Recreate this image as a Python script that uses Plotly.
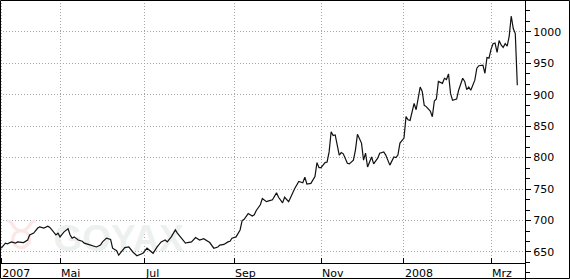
import plotly.graph_objects as go

# ---- data ----
dates = [
    "2007-03-19", "2007-03-21", "2007-03-22", "2007-03-26", "2007-03-28", "2007-03-29",
    "2007-04-03", "2007-04-05", "2007-04-10", "2007-04-12", "2007-04-16", "2007-04-17",
    "2007-04-19", "2007-04-23", "2007-04-24", "2007-04-25", "2007-04-27", "2007-04-30",
    "2007-05-01", "2007-05-03", "2007-05-08", "2007-05-09", "2007-05-10", "2007-05-11",
    "2007-05-15", "2007-05-17", "2007-05-18", "2007-05-22", "2007-05-24", "2007-05-29",
    "2007-05-31", "2007-06-01", "2007-06-05", "2007-06-07", "2007-06-08", "2007-06-12",
    "2007-06-13", "2007-06-15", "2007-06-18", "2007-06-20", "2007-06-22", "2007-06-26",
    "2007-06-29", "2007-07-03", "2007-07-04", "2007-07-06", "2007-07-10", "2007-07-12",
    "2007-07-16", "2007-07-17", "2007-07-19", "2007-07-23", "2007-07-24", "2007-07-26",
    "2007-07-30", "2007-07-31", "2007-08-02", "2007-08-06", "2007-08-08", "2007-08-10",
    "2007-08-14", "2007-08-15", "2007-08-17", "2007-08-21", "2007-08-22", "2007-08-24",
    "2007-08-29", "2007-08-30", "2007-08-31", "2007-09-04", "2007-09-06", "2007-09-07",
    "2007-09-10", "2007-09-11", "2007-09-12", "2007-09-14", "2007-09-17", "2007-09-18",
    "2007-09-20", "2007-09-21", "2007-09-25", "2007-09-27", "2007-09-28", "2007-10-02",
    "2007-10-03", "2007-10-05", "2007-10-08", "2007-10-10", "2007-10-12", "2007-10-15",
    "2007-10-17", "2007-10-19", "2007-10-22", "2007-10-23", "2007-10-25", "2007-10-29",
    "2007-10-30", "2007-10-31", "2007-11-01", "2007-11-05", "2007-11-06", "2007-11-07",
    "2007-11-08", "2007-11-09", "2007-11-12", "2007-11-14", "2007-11-15", "2007-11-16",
    "2007-11-20", "2007-11-21", "2007-11-23", "2007-11-26", "2007-11-27", "2007-11-29",
    "2007-11-30", "2007-12-03", "2007-12-04", "2007-12-06", "2007-12-07", "2007-12-11",
    "2007-12-12", "2007-12-14", "2007-12-17", "2007-12-19", "2007-12-21", "2007-12-24",
    "2007-12-27", "2007-12-28", "2008-01-02", "2008-01-03", "2008-01-04", "2008-01-07",
    "2008-01-09", "2008-01-10", "2008-01-14", "2008-01-15", "2008-01-16", "2008-01-17",
    "2008-01-21", "2008-01-22", "2008-01-23", "2008-01-24", "2008-01-25", "2008-01-29",
    "2008-01-30", "2008-01-31", "2008-02-01", "2008-02-04", "2008-02-05", "2008-02-07",
    "2008-02-08", "2008-02-11", "2008-02-12", "2008-02-13", "2008-02-14", "2008-02-15",
    "2008-02-18", "2008-02-19", "2008-02-20", "2008-02-21", "2008-02-22", "2008-02-26",
    "2008-02-27", "2008-02-28", "2008-02-29", "2008-03-03", "2008-03-04", "2008-03-05",
    "2008-03-06", "2008-03-07", "2008-03-10", "2008-03-11", "2008-03-12", "2008-03-13",
    "2008-03-14", "2008-03-17", "2008-03-18", "2008-03-19", "2008-03-20",
]
prices = [
    656, 664, 663, 666, 664, 666,
    665, 669, 677, 680, 688, 690,
    688, 691, 689, 685, 677, 680,
    674, 682, 687, 677, 672, 674,
    669, 667, 664, 662, 660, 658,
    661, 666, 672, 670, 656, 652,
    645, 653, 657, 658, 650, 644,
    648, 656, 653, 648, 658, 666,
    669, 666, 674, 685, 680, 672,
    664, 665, 666, 673, 669, 671,
    667, 665, 656, 658, 661, 662,
    666, 667, 672, 674, 685, 700,
    702, 706, 711, 707, 709, 716,
    725, 735, 730, 732, 733, 744,
    737, 728, 737, 730, 746, 751,
    762, 760, 769, 758, 759, 770,
    792, 784, 784, 792, 793, 809,
    841, 835, 836, 804, 808, 806,
    791, 790, 796, 812, 837, 823,
    796, 807, 785, 801, 790, 799,
    807, 809, 804, 788, 801, 800,
    804, 823, 831, 865, 860, 859,
    886, 876, 912, 905, 883, 881,
    874, 865, 890, 893, 921, 918,
    926, 924, 933, 902, 891, 893,
    907, 915, 926, 921, 908, 912,
    907, 915, 923, 942, 946, 947,
    934, 959, 958, 972, 981, 982,
    967, 986, 979, 975, 981, 977,
    993, 1025, 1005, 997, 915,
]
tick_dates = ["2007-03-19", "2007-05-01", "2007-07-02", "2007-09-03",
              "2007-11-01", "2008-01-02", "2008-03-03"]
tick_labels = ["2007", "Mai", "Jul", "Sep", "Nov", "2008", "Mrz"]
y_ticks = [650, 700, 750, 800, 850, 900, 950, 1000]
holidays = ["2007-04-06", "2007-04-09", "2007-05-07", "2007-05-28", "2007-08-27",
            "2007-12-25", "2007-12-26", "2008-01-01", "2008-03-21", "2008-03-24"]

# ---- layout constants ----
W, H = 570, 280
X_RIGHT = 525          # px position of the value axis
AXIS_Y = 263           # px position of the time axis line
x_range = ["2007-03-16 08:21", "2008-03-27 19:12"]
y_range = [632.5, 1050.4]
y2_range = [605.5, 1050.4]
FONT = "DejaVu Sans"
GRID = "#a6a6a6"

fig = go.Figure()

# faint watermark (drawn first so the line stays on top)
fig.add_trace(go.Scatter(
    x=["2007-04-02"], y=[670], mode="text", text=["\u2649"],
    textfont=dict(family="DejaVu Sans", size=40, color="#fbe7e5", weight="bold"),
    hoverinfo="skip", showlegend=False,
))
fig.add_trace(go.Scatter(
    x=["2007-06-13"], y=[667], mode="text", text=["GOYAX"],
    textfont=dict(family="Liberation Sans", size=37, color="#ecf1f0", weight="bold"),
    hoverinfo="skip", showlegend=False,
))

fig.add_trace(go.Scatter(
    x=dates, y=prices, mode="lines",
    line=dict(color="#111111", width=1.2),
    hoverinfo="skip", showlegend=False,
))

# carrier for the full-height value axis
fig.add_trace(go.Scatter(x=[], y=[], xaxis="x2", yaxis="y2",
                         showlegend=False, hoverinfo="skip"))

fig.update_layout(
    width=W, height=H, autosize=False,
    margin=dict(l=0, r=0, t=0, b=0),
    paper_bgcolor="white", plot_bgcolor="rgba(0,0,0,0)",
    hovermode=False,
    xaxis=dict(
        domain=[0, X_RIGHT / W], anchor="y",
        type="date", range=x_range,
        rangebreaks=[dict(bounds=["sat", "mon"]), dict(values=holidays)],
        tickmode="array", tickvals=tick_dates, ticktext=tick_labels,
        showgrid=True, gridcolor=GRID, griddash="1px,2px", gridwidth=1,
        showline=True, linecolor="black", linewidth=1,
        ticks="inside", ticklen=5, tickcolor="black", tickwidth=1,
        ticklabelposition="outside right",
        tickfont=dict(family=FONT, size=11, color="black"),
        zeroline=False,
    ),
    yaxis=dict(
        domain=[(H - AXIS_Y) / H, 1], anchor="x",
        range=y_range, side="right",
        tickmode="array", tickvals=y_ticks,
        showgrid=True, gridcolor=GRID, griddash="1px,2px", gridwidth=1,
        showticklabels=False, ticks="", showline=False, zeroline=False,
    ),
    xaxis2=dict(domain=[0, X_RIGHT / W], anchor="y2", range=[0, 1],
                visible=False),
    yaxis2=dict(
        domain=[0, 1], anchor="x2", side="right", range=y2_range,
        tickmode="array", tickvals=y_ticks,
        showgrid=False, zeroline=False,
        showline=True, linecolor="black", linewidth=1,
        ticks="outside", ticklen=5, tickcolor="black", tickwidth=1,
        tickfont=dict(family=FONT, size=11, color="black"),
        minor=dict(tickmode="linear", tick0=650, dtick=50 / 3,
                   ticks="outside", ticklen=4, tickcolor="black", showgrid=False),
    ),
    shapes=[dict(type="rect", xref="paper", yref="paper",
                 x0=0.5 / W, x1=(W - 0.5) / W, y0=1.5 / H, y1=(H - 0.5) / H,
                 line=dict(color="black", width=1), fillcolor="rgba(0,0,0,0)")],
)

fig.write_html("out.html")
